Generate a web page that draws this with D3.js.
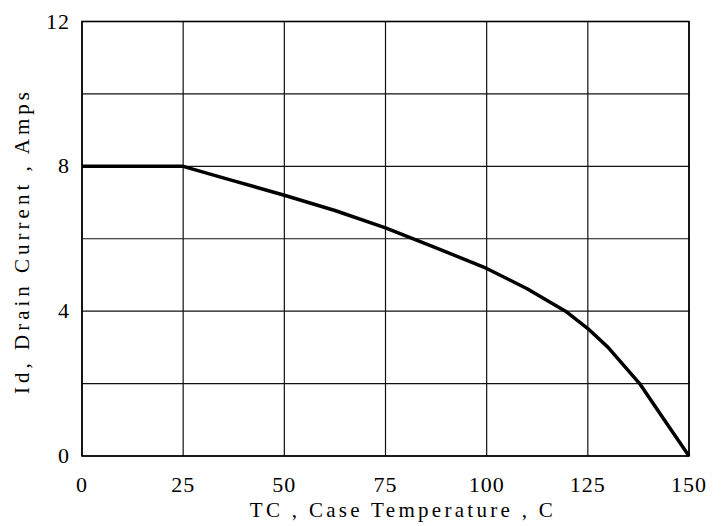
<!DOCTYPE html>
<html>
<head>
<meta charset="utf-8">
<script src="https://cdn.jsdelivr.net/npm/d3@7"></script>
<style>
  html, body { margin: 0; padding: 0; background: #fff; }
  svg { display: block; }
  text { font-family: "Liberation Serif", "DejaVu Serif", serif; fill: #000; }
</style>
</head>
<body>
<svg id="chart" width="727" height="526"></svg>
<script>
// Derating curve: drain current vs case temperature
const caseTemp = [0, 25, 37.5, 50, 62.5, 75, 87.5, 100, 110, 119.5, 125, 130, 137.8, 144, 150];
const drainCurrent = [8, 8, 7.6, 7.2, 6.78, 6.3, 5.75, 5.18, 4.62, 4.0, 3.52, 3.0, 2.0, 0.98, 0];

const xTicks = [0, 25, 50, 75, 100, 125, 150];
const yGrid = [0, 2, 4, 6, 8, 10, 12];
const yTickLabels = [0, 4, 8, 12];

const xLabel = "TC , Case Temperature , C";
const yLabel = "Id, Drain Current , Amps";

const margin = { left: 82, right: 38, top: 21.5, bottom: 70 };
const W = 727, H = 526;

const svg = d3.select("#chart");
const x = d3.scaleLinear().domain([0, 150]).range([margin.left, W - margin.right]);
const y = d3.scaleLinear().domain([0, 12]).range([H - margin.bottom, margin.top]);

// grid
const grid = svg.append("g").attr("stroke", "#111").attr("stroke-width", 1.2);
grid.selectAll("line.v").data(xTicks).join("line")
  .attr("x1", d => x(d)).attr("x2", d => x(d))
  .attr("y1", y(0)).attr("y2", y(12));
grid.selectAll("line.h").data(yGrid).join("line")
  .attr("y1", d => y(d)).attr("y2", d => y(d))
  .attr("x1", x(0)).attr("x2", x(150));

// border
svg.append("rect")
  .attr("x", x(0)).attr("y", y(12))
  .attr("width", x(150) - x(0)).attr("height", y(0) - y(12))
  .attr("fill", "none").attr("stroke", "#000").attr("stroke-width", 1.6);

// tick labels
svg.append("g").selectAll("text").data(xTicks).join("text")
  .attr("x", d => x(d)).attr("y", y(0) + 36)
  .attr("text-anchor", "middle")
  .attr("font-size", 22).attr("letter-spacing", 1)
  .text(d => d);

svg.append("g").selectAll("text").data(yTickLabels).join("text")
  .attr("x", x(0) - 12).attr("y", d => y(d) + 7)
  .attr("text-anchor", "end")
  .attr("font-size", 22).attr("letter-spacing", 1)
  .text(d => d);

// axis titles
svg.append("text")
  .attr("x", 403).attr("y", H - 9)
  .attr("text-anchor", "middle")
  .attr("font-size", 21).attr("letter-spacing", 3.3)
  .text(xLabel);

svg.append("text")
  .attr("transform", `translate(29, 241) rotate(-90)`)
  .attr("text-anchor", "middle")
  .attr("font-size", 21).attr("letter-spacing", 4)
  .text(yLabel);

// curve
const pts = caseTemp.map((t, i) => [t, drainCurrent[i]]);
svg.append("path")
  .datum(pts)
  .attr("fill", "none")
  .attr("stroke", "#000")
  .attr("stroke-width", 3.5)
  .attr("stroke-linejoin", "round")
  .attr("d", d3.line().x(d => x(d[0])).y(d => y(d[1])));
</script>
</body>
</html>
